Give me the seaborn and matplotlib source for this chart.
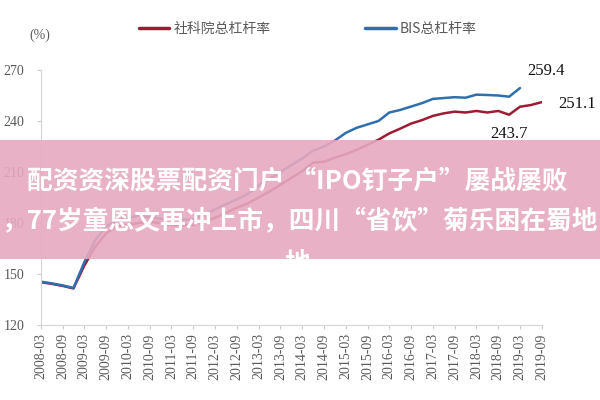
import pandas as pd
import matplotlib.pyplot as plt
import seaborn as sns
from matplotlib.patches import Rectangle

# quarterly observations, 2008-03 .. 2019-09
quarters = pd.date_range("2008-03-01", periods=47, freq="3MS").strftime("%Y-%m").tolist()

cass_name = "社科院总杠杆率"
bis_name = "BIS总杠杆率"

cass = [145.2, 144.2, 143.0, 141.5, 155.0, 166.0, 174.0, 178.0, 179.0, 180.0,
        180.8, 180.0, 178.8, 178.8, 178.8, 181.0, 183.0, 186.0, 189.0, 191.5,
        195.0, 198.5, 202.5, 206.5, 210.5, 215.5, 216.0, 218.5, 220.5, 223.0,
        226.0, 229.0, 232.7, 235.5, 238.5, 240.5, 243.0, 244.5, 245.5, 245.0,
        245.9, 245.0, 245.9, 243.7, 248.4, 249.4, 251.1]

bis = [145.5, 144.5, 143.3, 141.8, 157.0, 170.0, 178.0, 181.5, 183.0, 184.5,
       183.5, 182.5, 181.8, 182.0, 182.0, 185.0, 188.0, 191.0, 194.0, 197.0,
       202.0, 206.0, 210.0, 214.0, 218.0, 222.5, 225.0, 228.5, 233.0, 236.0,
       238.0, 240.0, 245.0, 246.5, 248.5, 250.5, 253.0, 253.5, 254.0, 253.7,
       255.5, 255.3, 255.0, 254.3, 259.4]

yticks = [120, 150, 180, 210, 240, 270]

title_lines = ["配资资深股票配资门户 “IPO钉子户”屡战屡败",
               "，77岁童恩文再冲上市，四川“省饮”菊乐困在蜀地",
               "地"]

rows = []
for i, v in enumerate(cass):
    rows.append((i, v, cass_name))
for i, v in enumerate(bis):
    rows.append((i, v, bis_name))
df = pd.DataFrame(rows, columns=["idx", "value", "series"])

sns.set_theme(style="white")
plt.rcParams['font.family'] = ['Liberation Serif', 'Noto Sans CJK SC', 'DejaVu Sans']

fig = plt.figure(figsize=(6, 4), dpi=100)
ax = fig.add_axes([0.068, 0.1875, 0.835, 0.6375])

sns.lineplot(data=df, x="idx", y="value", hue="series",
             hue_order=[cass_name, bis_name],
             palette={cass_name: "#9c1c34", bis_name: "#2f6fae"},
             linewidth=1.8, ax=ax)

ax.set_xlim(0, len(quarters) - 1)
ax.set_ylim(120, 270)
ax.set_yticks(yticks)
ax.set_xticks(range(0, len(quarters), 2))
ax.set_xticklabels(quarters[::2], rotation=90)
ax.set_xlabel(None)
ax.set_ylabel(None)
ax.tick_params(axis='both', labelsize=10, labelcolor="#5a5a5a", color="#cccccc",
               length=3, width=0.8, pad=3)
ax.tick_params(axis='x', direction='out', bottom=True)
ax.tick_params(axis='y', left=True, pad=9)
for s in ["top", "right"]:
    ax.spines[s].set_visible(False)
for s in ["left", "bottom"]:
    ax.spines[s].set_color("#d5d5d5")
    ax.spines[s].set_linewidth(0.8)

sns.move_legend(ax, loc="center", bbox_to_anchor=(0.533, 1.161), ncol=2,
                frameon=False, title=None, handlelength=2.2, handletextpad=0.3,
                columnspacing=6.8,
                prop={'family': ['Noto Sans CJK SC'], 'size': 10})
for t in ax.get_legend().get_texts():
    t.set_color("#5a5a5a")
for h in ax.get_legend().get_lines():
    h.set_linewidth(2.5)

fig.text(0.067, 0.912, "(%)", fontsize=10, color="#5a5a5a", ha="center", va="center")

# end-point labels
ax.annotate(f"{bis[-1]}", xy=(len(bis) - 1, bis[-1]), xytext=(19, 12),
            textcoords="offset points", ha="center", va="center", fontsize=12,
            color="#111111", annotation_clip=False)
ax.annotate(f"{cass[-1]}", xy=(len(cass) - 1, cass[-1]), xytext=(12, -1),
            textcoords="offset points", ha="left", va="center", fontsize=12,
            color="#111111", annotation_clip=False)
ax.annotate(f"{cass[43]}", xy=(43, cass[43]), xytext=(0, -14),
            textcoords="offset points", ha="center", va="center", fontsize=12,
            color="#111111")

# pink banner overlay
banner = Rectangle((0, 0.3525), 1, 0.2975, transform=fig.transFigure,
                   facecolor="#e6a9bf", alpha=0.9, edgecolor="none", zorder=5)
fig.patches.append(banner)
ypos = [0.5475, 0.445, 0.342]
xpos = [0.496, 0.5, 0.495]
for txt, x, y in zip(title_lines, xpos, ypos):
    t = fig.text(x, y, txt, ha="center", va="center", fontsize=18.5,
                 fontweight="bold", color="white",
                 family=['Noto Sans CJK SC', 'DejaVu Sans'], zorder=6)
    t.set_clip_path(banner)

fig.savefig("out.png", dpi=100)
